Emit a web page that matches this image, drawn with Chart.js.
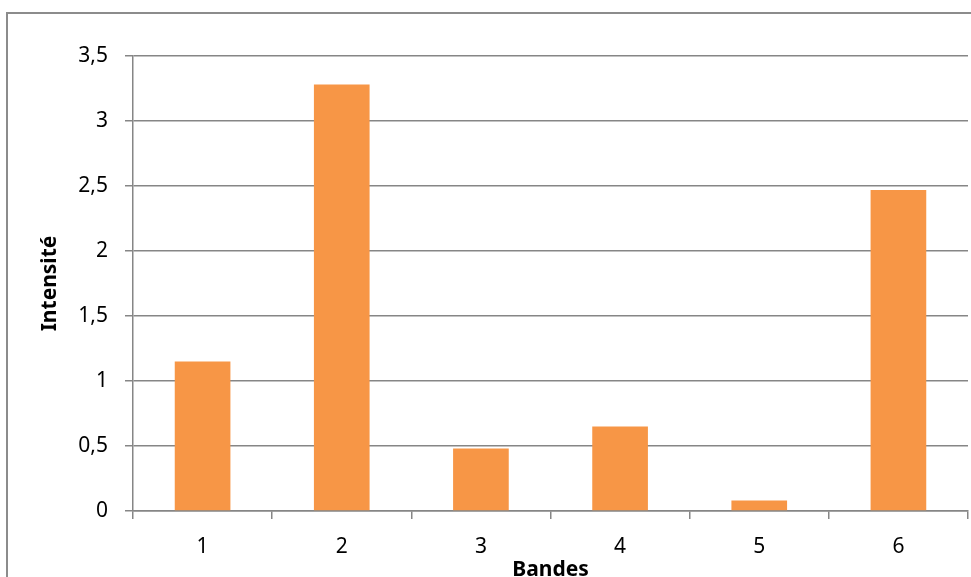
<!DOCTYPE html>
<html lang="fr">

<head>
  <meta charset="UTF-8">
  <title>Intensité par bande</title>
  <style>
    html,
    body {
      margin: 0;
      padding: 0;
      width: 971px;
      height: 577px;
      overflow: hidden;
      background: #fff;
    }

    #frame {
      position: absolute;
      left: 6px;
      top: 12px;
      width: 1000px;
      height: 700px;
      border: 2px solid #8c8c8c;
    }

    #myChart {
      position: absolute;
      left: 0;
      top: 0;
    }
  </style>
</head>

<body>
  <div id="frame"></div>
  <canvas id="myChart" width="971" height="600"></canvas>
  <script src="https://cdn.jsdelivr.net/npm/chart.js@4/dist/chart.umd.min.js"></script>
  <script>
    const bandes = ['1', '2', '3', '4', '5', '6']
    const intensite = [1.15, 3.28, 0.48, 0.65, 0.08, 2.47]
    const yMax = 3.5
    const yStep = 0.5

    const gridGrey = '#868686'
    const font = 'Noto Sans'

    function drawChart() {
      const context = document.querySelector('#myChart').getContext('2d')
      new Chart(context, {
        type: 'bar',
        data: {
          labels: bandes,
          datasets: [
            {
              label: 'Intensité',
              backgroundColor: '#F79646',
              borderWidth: 0,
              categoryPercentage: 1,
              barPercentage: 0.4,
              data: intensite
            }
          ]
        },
        options: {
          responsive: false,
          animation: false,
          layout: {
            padding: { top: 56, right: 3, left: 0, bottom: 0 }
          },
          plugins: {
            legend: { display: false },
            tooltip: { enabled: false }
          },
          scales: {
            x: {
              afterFit: scale => { scale.height = 89 },
              grid: {
                offset: true,
                drawOnChartArea: false,
                drawTicks: true,
                tickLength: 8,
                lineWidth: 1.5,
                color: gridGrey
              },
              border: { display: true, color: gridGrey, width: 1.5 },
              ticks: {
                color: '#000',
                padding: 15,
                font: { family: font, size: 21 }
              },
              title: {
                display: true,
                text: 'Bandes',
                color: '#000',
                padding: { top: 0, bottom: 17 },
                font: { family: font, size: 21, weight: 'bold' }
              }
            },
            y: {
              min: 0,
              max: yMax,
              afterFit: scale => { scale.width = 133 },
              grid: {
                color: gridGrey,
                lineWidth: 1.5,
                drawTicks: true,
                tickLength: 8
              },
              border: { display: true, color: gridGrey, width: 1.5 },
              ticks: {
                stepSize: yStep,
                color: '#000',
                padding: 17,
                font: { family: font, size: 21 },
                callback: v => String(v).replace('.', ',')
              },
              title: {
                display: true,
                text: 'Intensité',
                color: '#000',
                padding: { top: 37, bottom: 0 },
                font: { family: font, size: 21, weight: 'bold' }
              }
            }
          }
        }
      })
    }

    window.onload = () => {
      drawChart()
    }
  </script>
</body>

</html>
